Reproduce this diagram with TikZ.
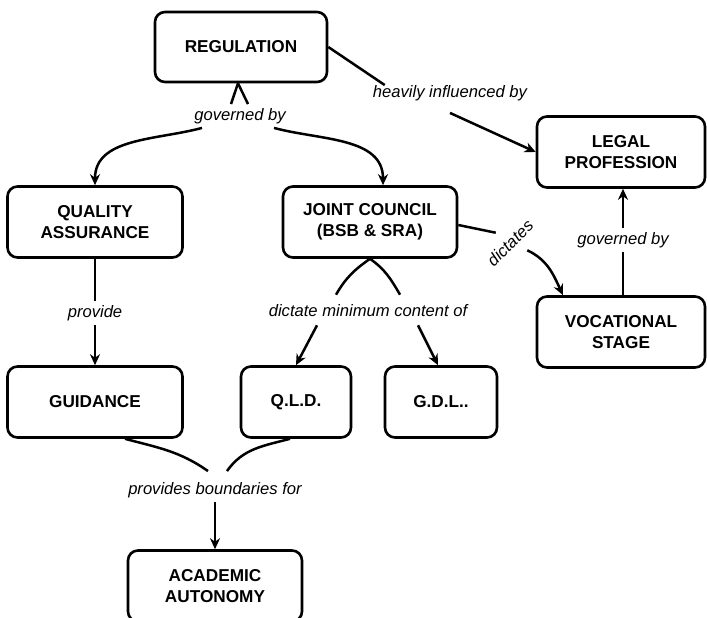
\documentclass[tikz,border=0pt]{standalone}
\usepackage{fontspec}
\setmainfont{Liberation Sans}
\usetikzlibrary{arrows.meta}

\begin{document}
\begin{tikzpicture}[x=1pt,y=1pt,
    concept/.style={draw,line width=2.6pt,rounded corners=10pt,align=center,
      font=\fontsize{17.2}{20.5}\selectfont\bfseries,
      minimum width=174pt,minimum height=71pt,inner sep=0pt},
    linkphrase/.style={font=\fontsize{16.6}{20}\selectfont\itshape,inner sep=4pt},
    link/.style={line width=2.5pt},
    arrowlink/.style={line width=2.5pt,-{Stealth[length=11pt,width=10pt]}}]
        \useasboundingbox (0,0) rectangle (707,-618);

        \node [concept,minimum width=172pt,minimum height=70pt] (reg) at (241,-47) {REGULATION};
        \node [concept,minimum width=168pt] (legal) at (621,-152) {LEGAL\\PROFESSION};
        \node [concept,minimum width=175pt] (qa) at (95,-222) {QUALITY\\ASSURANCE};
        \node [concept] (jc) at (370,-222) {JOINT COUNCIL\\(BSB \& SRA)};
        \node [concept,minimum width=168pt] (voc) at (621,-332) {VOCATIONAL\\STAGE};
        \node [concept,minimum width=175pt] (gui) at (95,-402) {GUIDANCE};
        \node [concept,minimum width=110pt] (qld) at (296,-402) {Q.L.D.};
        \node [concept,minimum width=112pt] (gdl) at (441,-402) {G.D.L..};
        \node [concept] (aa) at (215,-586) {ACADEMIC\\AUTONOMY};

        \node [linkphrase] (lgov) at (240,-116) {governed by};
        \node [linkphrase] (lhi) at (450,-93) {heavily influenced by};
        \node [linkphrase] (lprov) at (95,-313) {provide};
        \node [linkphrase] (ldict) at (368,-311) {dictate minimum content of};
        \node [linkphrase,rotate=45] (ldicts) at (510,-243) {dictates};
        \node [linkphrase] (lgov2) at (623,-240) {governed by};
        \node [linkphrase] (lbound) at (215,-490) {provides boundaries for};

        \draw [link] ([xshift=-3pt]reg.south) -- ([xshift=-9pt]lgov.north);
        \draw [link] ([xshift=-3pt]reg.south) -- ([xshift=8pt]lgov.north);
        \draw [arrowlink] ([xshift=-38pt]lgov.south) to[out=195,in=90] (qa.north);
        \draw [arrowlink] ([xshift=34pt]lgov.south) to[out=-15,in=90] ([xshift=13pt]jc.north);

        \draw [link] (reg.east) -- ([xshift=16pt,yshift=-4pt]lhi.north west);
        \draw [arrowlink] ([yshift=-8pt]lhi.south) -- (legal.west);

        \draw [link] (qa.south) -- (lprov.north);
        \draw [arrowlink] (lprov.south) -- (gui.north);

        \draw [link] (jc.south) to[out=215,in=60] ([xshift=-32pt,yshift=6pt]ldict.north);
        \draw [link] (jc.south) to[out=-35,in=120] ([xshift=32pt,yshift=6pt]ldict.north);
        \draw [arrowlink] ([xshift=-51pt,yshift=-4pt]ldict.south) -- (qld.north);
        \draw [arrowlink] ([xshift=50pt,yshift=-4pt]ldict.south) -- ([xshift=-3pt]gdl.north);

        \draw [link] ([yshift=-3pt]jc.east) -- ([xshift=-7pt,yshift=3pt]ldicts.north);
        \draw [arrowlink] ([xshift=10pt]ldicts.south) to[out=-25,in=115] ([xshift=-58pt]voc.north);

        \draw [link] (voc.north -| lgov2) -- (lgov2.south);
        \draw [arrowlink] (lgov2.north) -- (lgov2.north |- legal.south);

        \draw [link] ([xshift=30pt]gui.south) to[out=-15,in=145] ([xshift=-7pt,yshift=7pt]lbound.north);
        \draw [link] ([xshift=-6pt]qld.south) to[out=195,in=55] ([xshift=12pt,yshift=7pt]lbound.north);
        \draw [arrowlink] (lbound.south) -- (aa.north);
      \end{tikzpicture}
\end{document}
